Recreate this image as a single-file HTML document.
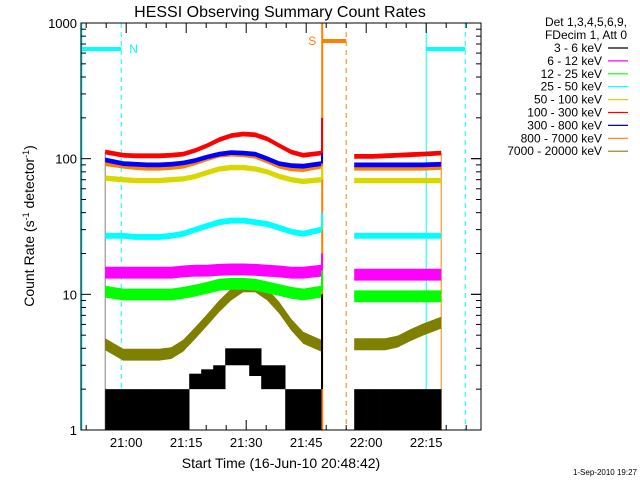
<!DOCTYPE html>
<html><head><meta charset="utf-8"><style>
body{margin:0;background:#fff;}
svg{display:block;font-family:"Liberation Sans",sans-serif;}
</style></head><body>
<svg id="c" width="640" height="480" viewBox="0 0 640 480">
<rect x="0" y="0" width="640" height="480" fill="#fff"/>
<text x="280" y="17" font-size="16" text-anchor="middle">HESSI Observing Summary Count Rates</text>
<g id="marks"></g>
<g id="axes"></g>
<text transform="translate(34,226) rotate(-90)" font-size="14" text-anchor="middle">Count Rate (s<tspan baseline-shift="super" font-size="9">-1</tspan> detector<tspan baseline-shift="super" font-size="9">-1</tspan>)</text>
<text x="281" y="468" font-size="14" text-anchor="middle">Start Time (16-Jun-10 20:48:42)</text>
<text x="637" y="475" font-size="8" text-anchor="end">1-Sep-2010 19:27</text>
<g id="legend">
<text x="627" y="26" font-size="12" text-anchor="end">Det 1,3,4,5,6,9,</text>
<text x="627" y="39" font-size="12" text-anchor="end">FDecim 1, Att 0</text>
</g>
</svg>
<script>
// ---- data ----
const seriesNames = ["3 - 6 keV","6 - 12 keV","12 - 25 keV","25 - 50 keV","50 - 100 keV","100 - 300 keV","300 - 800 keV","800 - 7000 keV","7000 - 20000 keV"];
const seriesColors = ["#000000","#ff00ff","#00ff00","#00ffff","#d8d800","#ff0000","#0000ff","#ff8000","#808000"];
// time in minutes after 21:00
const seg1Start = -5.25, seg1End = 49.25, seg2Start = 57, seg2End = 78.75;
const seg1Bins = 18, seg2Bins = 7;
const blackLo1 = [1,1,1,1,1,1,1,2,2,2,3,3,2.5,2,2,1,1,1];
const blackHi1 = [2,2,2,2,2,2,2,2.6,2.8,3,4,4,4,3,3,2,2,2];
const blackLo2 = [1,1,1,1,1,1,1];
const blackHi2 = [2,2,2,2,2,2,2];
const magenta1 = [14.5,14.5,14.5,14.5,14.5,14.5,14.8,15,15,15.2,15.3,15.3,15.2,15,14.8,14.5,14.5,15];
const green1 = [10.5,10,10,10,10,10,10.3,10.7,11.2,11.8,12,12,11.8,11.3,10.8,10.3,10,10.5];
const cyan1 = [27,27,26.5,26.5,26.5,27,28,30,32,34,35,35,34,33,31,29,28,30];
const yellow1 = [72,70,69,69,69,70,71,74,79,84,86,86,84,80,74,70,68,70];
const red1 = [112,106,105,105,105,106,108,115,125,138,148,152,150,140,125,112,106,110];
const blue1 = [98,92,91,90,90,91,93,97,103,108,111,110,108,100,92,89,88,92];
const orange1 = [92,88,86,85,85,86,88,93,100,106,108,107,104,96,88,84,83,88];
const olive1 = [4.3,3.6,3.6,3.6,3.6,3.7,4.2,5.2,6.5,8.2,10,11.5,11.5,10,8,6,4.8,4.2];
const magenta2 = [14,14,14,14,14,14,14];
const green2 = [9.7,9.7,9.7,9.7,9.7,9.7,9.7];
const cyan2 = [27,27,27,27,27,27,27];
const yellow2 = [69,69,69,69,69,69,69];
const red2 = [104,104,105,106,107,108,110];
const blue2 = [90,90,90,90,90,90,91];
const orange2 = [85,85,85,85,85,85,86];
const olive2 = [4.3,4.3,4.3,4.5,5,5.5,6.2];
const spikePeak = [10,20,20,40,150,200,170,180,8];
const noiseFrac = [0,0.08,0.08,0.03,0.025,0.02,0.02,0.02,0.08];
const yTickVals = [1,10,100,1000];
const yTickLabels = ["1","10","100","1000"];
const xTickMins = [0,15,30,45,60,75];
const xTickLabels = ["21:00","21:15","21:30","21:45","22:00","22:15"];

// ---- axes functions ----
const L=81,R=481,T=23,B=430;
const mStart=-11.3, mEnd=88.7;
function X(m){return L+(m-mStart)/(mEnd-mStart)*(R-L);}
function Y(v){return B-(Math.log10(v)/3)*(B-T);}
const NS="http://www.w3.org/2000/svg";
function mk(tag,attrs,parent){const e=document.createElementNS(NS,tag);for(const k in attrs)e.setAttribute(k,attrs[k]);parent.appendChild(e);return e;}
const marks=document.getElementById('marks'), axes=document.getElementById('axes'), legend=document.getElementById('legend');

function vline(m,color,dash,w,name){const e=mk('line',{x1:X(m),x2:X(m),y1:T,y2:B,stroke:color,'stroke-width':w,'stroke-dasharray':dash},marks);

}
vline(-11.2,"#00ffff","none",2,"saa-start-line");
vline(-1.25,"#00ffff","5,4",1,"night-end-line");
vline(49,"#ff8000","none",2,"flare-start-line");
vline(55,"#ff8000","5,4",1,"flare-end-line");
vline(75,"#00ffff","none",1,"night-start-line");
vline(84.75,"#00ffff","5,4",1,"night-dashed-line");
function hbar(m1,m2,y,color,name){const e=mk('line',{x1:X(m1),x2:X(m2),y1:y,y2:y,stroke:color,'stroke-width':4},marks);

}
hbar(-11.3,-1.25,49,"#00ffff","night-bar-left");
hbar(75,84.75,49,"#00ffff","night-bar-right");
hbar(49,55,41,"#ff8000","flare-bar");
let t=mk('text',{x:X(-1.25)+8,y:53,fill:"#00ffff",'font-size':12},marks);t.textContent="N";


t=mk('text',{x:X(49)-14,y:45,fill:"#ff8000",'font-size':12},marks);t.textContent="S";



[[seg1Start,112],[seg2End,110]].forEach((p,i)=>{const e=mk('line',{x1:X(p[0]),x2:X(p[0]),y1:Y(p[1]),y2:B,stroke:i?"#ff8000":"#808080",'stroke-width':1},marks);

});

const seg1 = [[blackLo1,blackHi1],magenta1,green1,cyan1,yellow1,red1,blue1,orange1,olive1];
const seg2 = [[blackLo2,blackHi2],magenta2,green2,cyan2,yellow2,red2,blue2,orange2,olive2];
function drawSeg(si,vals,s0,s1,n,g){
  const w=(s1-s0)/n;
  if(si===0){
    for(let i=0;i<n;i++){
      const y1=Y(vals[1][i]),y2=Y(vals[0][i]);
      const r=mk('rect',{x:X(s0+i*w),y:y1,width:X(s0+(i+1)*w)-X(s0+i*w)+0.3,height:Math.max(2,y2-y1),fill:seriesColors[si]},g);
      
      
    }
    return;
  }
  const top=[],bot=[];
  for(let i=0;i<n;i++){
    const m = i===0 ? s0 : (i===n-1 ? s1 : s0+(i+0.5)*w);
    top.push([X(m),Y(vals[i]*(1+noiseFrac[si]))-1.2]);
    bot.push([X(m),Y(vals[i]*(1-noiseFrac[si]))+1.2]);
  }
  const pts=top.concat(bot.reverse()).map(p=>p[0].toFixed(1)+','+p[1].toFixed(1)).join(' ');
  const p=mk('polygon',{points:pts,fill:seriesColors[si]},g);
  
  
}
const order=[8,0,2,1,3,4,7,6,5];
order.forEach(si=>{
  const g=mk('g',{},marks);
  
  
  drawSeg(si,seg1[si],seg1Start,seg1End-0.5,seg1Bins,g);
  drawSeg(si,seg2[si],seg2Start,seg2End,seg2Bins,g);
  const base = si===0 ? blackHi1[seg1Bins-1] : seg1[si][seg1Bins-1];
  const sp=mk('line',{x1:X(seg1End-0.3),x2:X(seg1End-0.3),y1:Y(base),y2:Y(spikePeak[si]),stroke:seriesColors[si],'stroke-width':2},g);
  
  
});

const box=mk('rect',{x:L,y:T,width:R-L,height:B-T,fill:"none",stroke:"#000",'stroke-width':1},axes);


for(let d=0;d<3;d++){for(let k=1;k<10;k++){const v=Math.pow(10,d)*k;const y=Y(v);const len=k===1?10:5;
  const a=mk('line',{x1:L,x2:L+len,y1:y,y2:y,stroke:"#000"},axes);
  
  
  const b=mk('line',{x1:R,x2:R-len,y1:y,y2:y,stroke:"#000"},axes);
  
  }}
yTickVals.forEach((v,i)=>{const tx=mk('text',{x:L-4,y:Y(v)+5,'font-size':13,'text-anchor':'end'},axes);tx.textContent=yTickLabels[i];
  
  
  const a=mk('line',{x1:R,x2:R-10,y1:Y(v),y2:Y(v),stroke:"#000"},axes);
  
  });
for(let m=-10;m<=85;m+=5){const major=(m%15===0);const len=major?10:5;
  const a=mk('line',{x1:X(m),x2:X(m),y1:B,y2:B-len,stroke:"#000"},axes);
  
  
  const b=mk('line',{x1:X(m),x2:X(m),y1:T,y2:T+len,stroke:"#000"},axes);
  
  }
xTickMins.forEach((m,i)=>{const tx=mk('text',{x:X(m),y:B+17,'font-size':13,'text-anchor':'middle'},axes);tx.textContent=xTickLabels[i];
  
  });

seriesNames.forEach((n,i)=>{const y=52+i*12.9;
  const tx=mk('text',{x:602,y:y,'font-size':12,'text-anchor':'end'},legend);tx.textContent=n;
  
  
  const ln=mk('line',{x1:608,x2:628,y1:y-4,y2:y-4,stroke:seriesColors[i],'stroke-width':1.2},legend);
  
  });
</script>
</body></html>
